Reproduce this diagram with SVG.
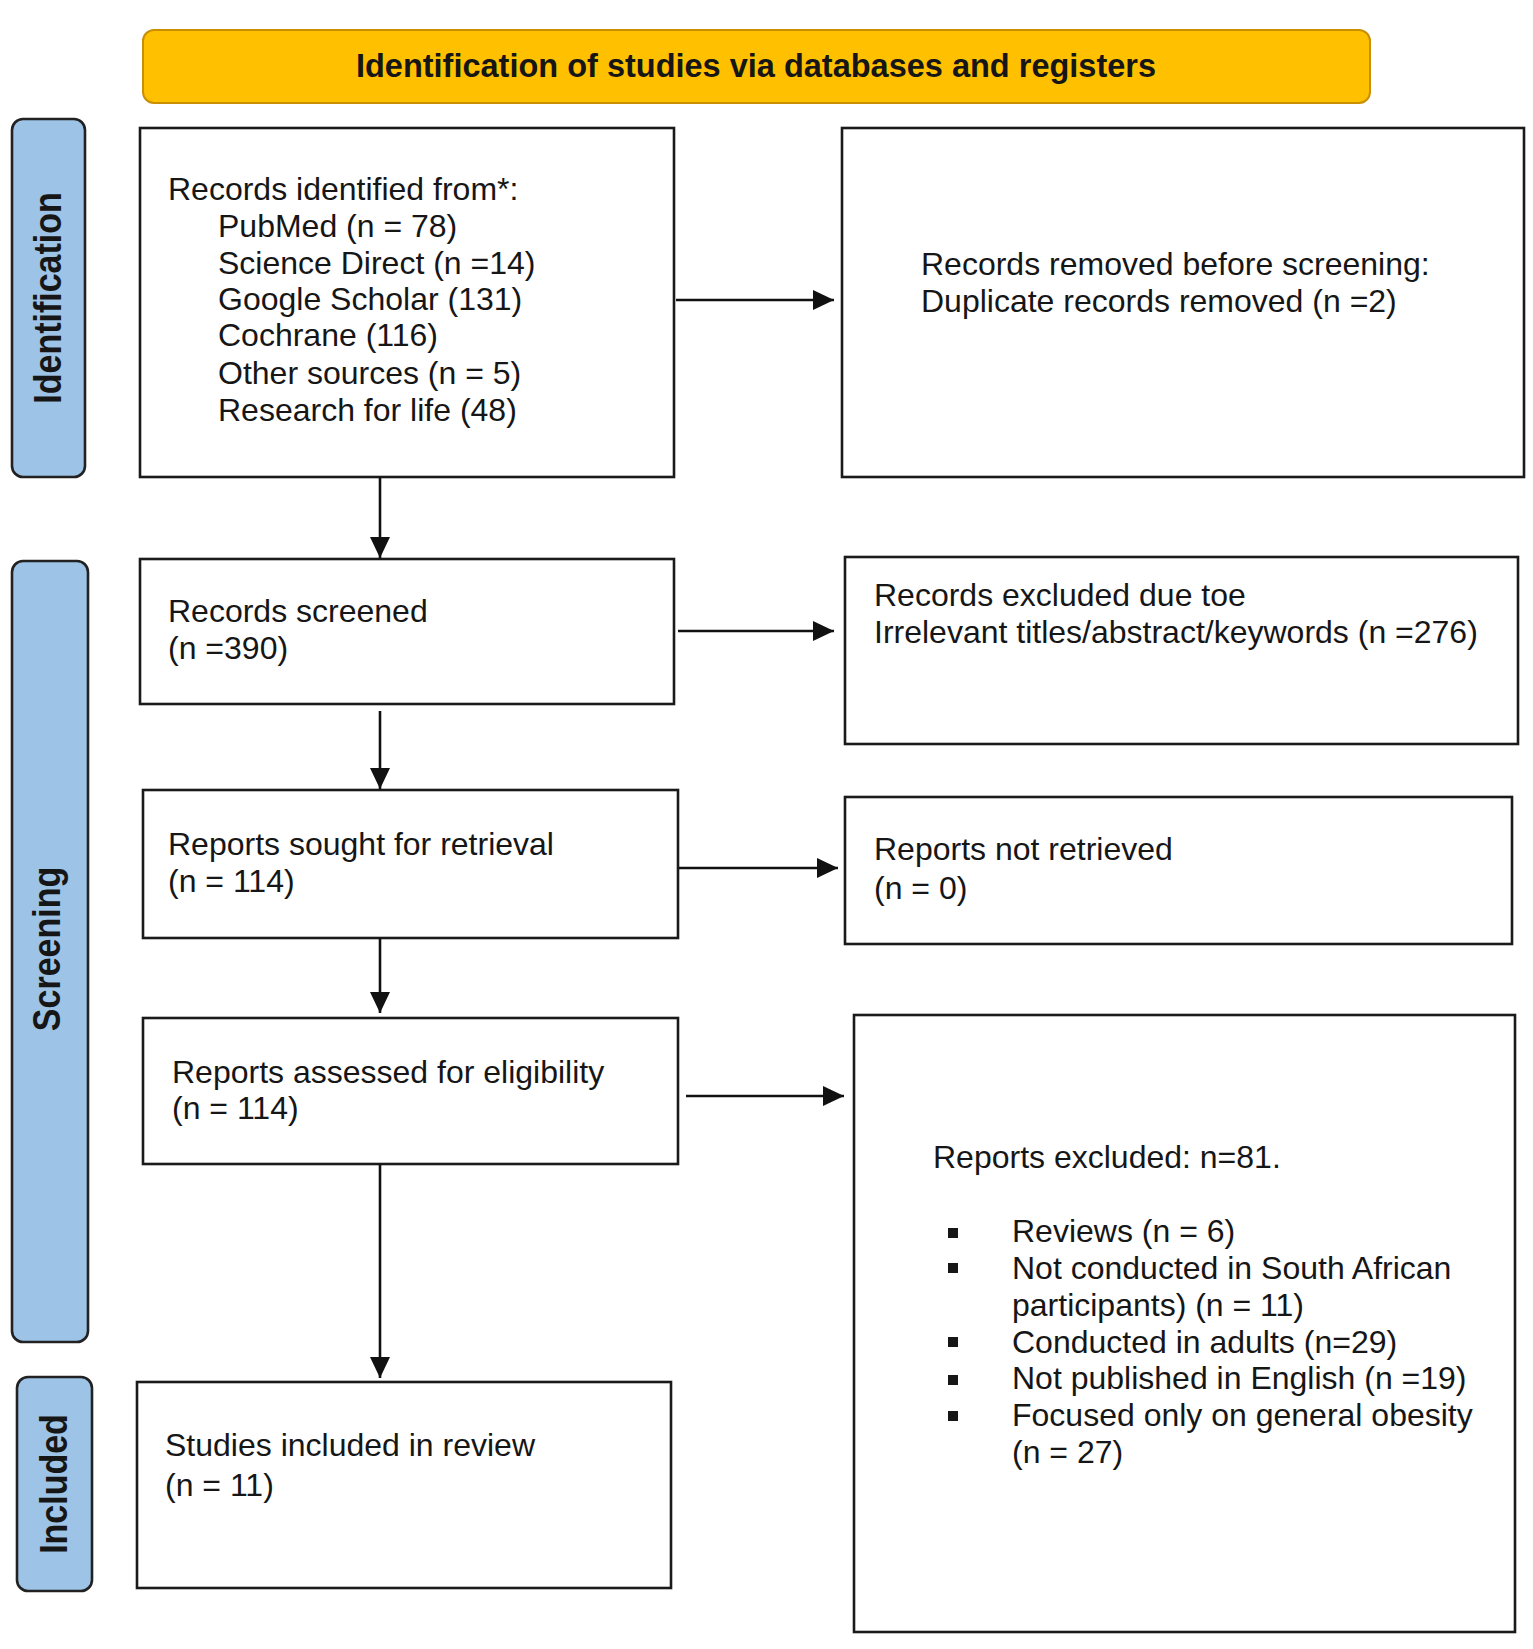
<svg xmlns="http://www.w3.org/2000/svg" width="1533" height="1649" viewBox="0 0 1533 1649">
<style>
  text { font-family: "Liberation Sans", Arial, sans-serif; fill: #161616; }
  .body { font-size: 32px; }
  .title { font-size: 32.5px; font-weight: bold; }
  .side { font-size: 34px; font-weight: bold; }
  .box { fill: #ffffff; stroke: #1a1a1a; stroke-width: 2.6; }
  .lane { fill: #9DC3E6; stroke: #222222; stroke-width: 2.6; }
  .conn { stroke: #111111; stroke-width: 2.6; fill: none; }
</style>
<defs>
  <marker id="arrow" markerUnits="userSpaceOnUse" markerWidth="22" markerHeight="20" refX="21" refY="10" orient="auto">
    <path d="M0,0 L21,10 L0,20 Z" fill="#111111"/>
  </marker>
</defs>
<rect x="0" y="0" width="1533" height="1649" fill="#ffffff"/>

<g id="banner">
  <rect x="143" y="30" width="1227" height="73" rx="11" ry="11" fill="#FFC000" stroke="#C98F00" stroke-width="2"/>
  <text class="title" x="756" y="77" text-anchor="middle">Identification of studies via databases and registers</text>
</g>

<g id="lane-identification">
  <rect class="lane" x="12" y="119" width="73" height="358" rx="11" ry="11"/>
  <text class="side" text-anchor="middle" transform="translate(61,298) rotate(-90) scale(1,1.12)">Identification</text>
</g>
<g id="lane-screening">
  <rect class="lane" x="12" y="561" width="76" height="781" rx="11" ry="11"/>
  <text class="side" text-anchor="middle" transform="translate(60,949) rotate(-90) scale(1,1.12)">Screening</text>
</g>
<g id="lane-included">
  <rect class="lane" x="17" y="1377" width="75" height="214" rx="11" ry="11"/>
  <text class="side" text-anchor="middle" transform="translate(67,1484) rotate(-90) scale(1,1.12)">Included</text>
</g>

<g id="records-identified">
  <rect class="box" x="140" y="128" width="534" height="349"/>
  <text class="body" x="168" y="200">Records identified from*:</text>
  <text class="body" x="218" y="237">PubMed (n = 78)</text>
  <text class="body" x="218" y="274">Science Direct (n =14)</text>
  <text class="body" x="218" y="310">Google Scholar (131)</text>
  <text class="body" x="218" y="346">Cochrane (116)</text>
  <text class="body" x="218" y="384">Other sources (n = 5)</text>
  <text class="body" x="218" y="421">Research for life (48)</text>
</g>

<g id="records-removed">
  <rect class="box" x="842" y="128" width="682" height="349"/>
  <text class="body" x="921" y="275">Records removed before screening:</text>
  <text class="body" x="921" y="312">Duplicate records removed (n =2)</text>
</g>

<g id="records-screened">
  <rect class="box" x="140" y="559" width="534" height="145"/>
  <text class="body" x="168" y="622">Records screened</text>
  <text class="body" x="168" y="659">(n =390)</text>
</g>

<g id="records-excluded">
  <rect class="box" x="845" y="557" width="673" height="187"/>
  <text class="body" x="874" y="606">Records excluded due toe</text>
  <text class="body" x="874" y="643">Irrelevant titles/abstract/keywords (n =276)</text>
</g>

<g id="reports-sought">
  <rect class="box" x="143" y="790" width="535" height="148"/>
  <text class="body" x="168" y="855">Reports sought for retrieval</text>
  <text class="body" x="168" y="892">(n = 114)</text>
</g>

<g id="reports-not-retrieved">
  <rect class="box" x="845" y="797" width="667" height="147"/>
  <text class="body" x="874" y="860">Reports not retrieved</text>
  <text class="body" x="874" y="899">(n = 0)</text>
</g>

<g id="reports-assessed">
  <rect class="box" x="143" y="1018" width="535" height="146"/>
  <text class="body" x="172" y="1083">Reports assessed for eligibility</text>
  <text class="body" x="172" y="1119">(n = 114)</text>
</g>

<g id="reports-excluded">
  <rect class="box" x="854" y="1015" width="661" height="617"/>
  <text class="body" x="933" y="1168">Reports excluded: n=81.</text>
  <rect x="948" y="1228" width="10" height="10" fill="#161616"/>
  <rect x="948" y="1263" width="10" height="10" fill="#161616"/>
  <rect x="948" y="1337" width="10" height="10" fill="#161616"/>
  <rect x="948" y="1375" width="10" height="10" fill="#161616"/>
  <rect x="948" y="1411" width="10" height="10" fill="#161616"/>
  <text class="body" x="1012" y="1242">Reviews (n = 6)</text>
  <text class="body" x="1012" y="1279">Not conducted in South African</text>
  <text class="body" x="1012" y="1316">participants) (n = 11)</text>
  <text class="body" x="1012" y="1353">Conducted in adults (n=29)</text>
  <text class="body" x="1012" y="1389">Not published in English (n =19)</text>
  <text class="body" x="1012" y="1426">Focused only on general obesity</text>
  <text class="body" x="1012" y="1463">(n = 27)</text>
</g>

<g id="studies-included">
  <rect class="box" x="137" y="1382" width="534" height="206"/>
  <text class="body" x="165" y="1456">Studies included in review</text>
  <text class="body" x="165" y="1496">(n = 11)</text>
</g>

<g id="connectors">
  <line class="conn" x1="380" y1="477" x2="380" y2="558" marker-end="url(#arrow)"/>
  <line class="conn" x1="380" y1="711" x2="380" y2="789" marker-end="url(#arrow)"/>
  <line class="conn" x1="380" y1="938" x2="380" y2="1013" marker-end="url(#arrow)"/>
  <line class="conn" x1="380" y1="1164" x2="380" y2="1378" marker-end="url(#arrow)"/>
  <line class="conn" x1="676" y1="300" x2="834" y2="300" marker-end="url(#arrow)"/>
  <line class="conn" x1="678" y1="631" x2="834" y2="631" marker-end="url(#arrow)"/>
  <line class="conn" x1="679" y1="868" x2="838" y2="868" marker-end="url(#arrow)"/>
  <line class="conn" x1="686" y1="1096" x2="844" y2="1096" marker-end="url(#arrow)"/>
</g>
</svg>
